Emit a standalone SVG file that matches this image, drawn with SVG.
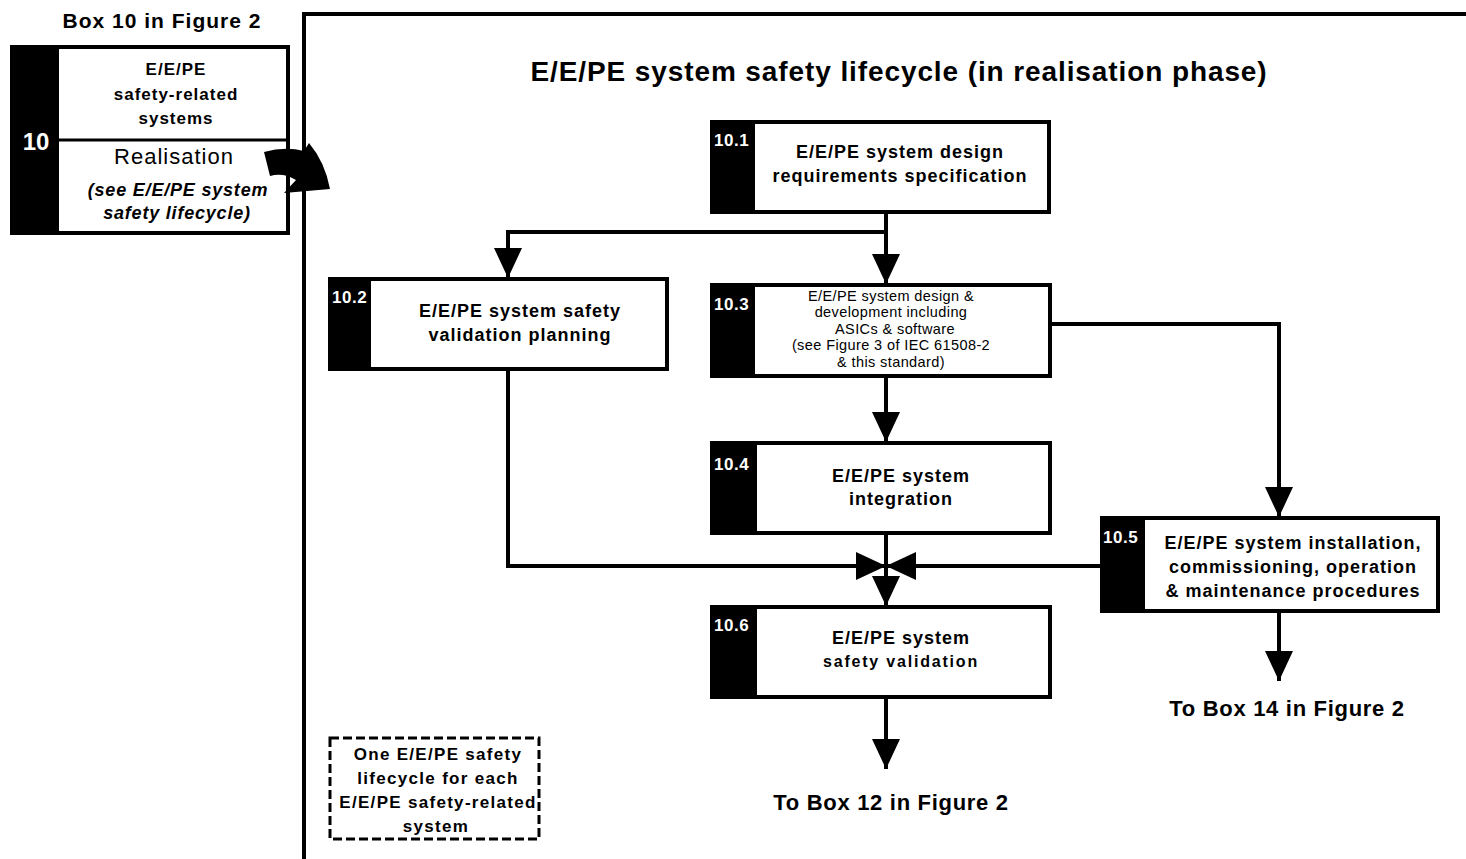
<svg xmlns="http://www.w3.org/2000/svg" width="1466" height="859" viewBox="0 0 1466 859">
<defs>
<marker id="ah" markerUnits="userSpaceOnUse" markerWidth="30" markerHeight="28" viewBox="0 0 30 28" refX="30" refY="14" orient="auto">
<path d="M0,0 L30,14 L0,28 Z" fill="#000"/>
</marker>
<style>
text{font-family:"Liberation Sans",Arial,sans-serif;fill:#000}
.b{font-weight:bold}
.t{font-size:18px;font-weight:bold;text-anchor:middle;letter-spacing:1px}
.n{font-size:17px;font-weight:bold;fill:#fff;letter-spacing:0.5px}
.box{fill:#fff;stroke:#000;stroke-width:4}
.bar{fill:#000}
.c{fill:none;stroke:#000;stroke-width:4}
.s{font-size:14.5px;text-anchor:middle;letter-spacing:0.4px}
.nt{font-size:17px;letter-spacing:1.3px}
.to{font-size:22px;letter-spacing:0.7px}
</style>
</defs>
<rect x="0" y="0" width="1466" height="859" fill="#fff"/>

<!-- outer frame -->
<path d="M304,859 L304,14 L1466,14" fill="none" stroke="#000" stroke-width="4"/>
<text x="899" y="81" class="b" font-size="28" letter-spacing="0.9" text-anchor="middle">E/E/PE system safety lifecycle (in realisation phase)</text>

<g id="box10">
<text x="162" y="28" class="b" font-size="21" letter-spacing="1" text-anchor="middle">Box 10 in Figure 2</text>
<rect x="12" y="47" width="276" height="186" class="box" stroke-width="3"/>
<rect x="11" y="46" width="48" height="189" class="bar"/>
<line x1="59" y1="140" x2="288" y2="140" stroke="#000" stroke-width="3"/>
<text x="36" y="150" font-size="24" class="b" text-anchor="middle" style="fill:#fff">10</text>
<text x="176" y="75" class="t" style="font-size:17px">E/E/PE</text>
<text x="176" y="100" class="t" style="font-size:17px">safety-related</text>
<text x="176" y="124" class="t" style="font-size:17px">systems</text>
<text x="174" y="164" font-size="22" letter-spacing="1" text-anchor="middle">Realisation</text>
<text x="178" y="196" class="b" font-size="18" letter-spacing="0.8" font-style="italic" text-anchor="middle">(see E/E/PE system</text>
<text x="177" y="219" class="b" font-size="18" letter-spacing="0.8" font-style="italic" text-anchor="middle">safety lifecycle)</text>
<path d="M264,152 Q285,146 304,151 L309,143 Q325,162 330,189 L284,193 L296,180 Q283,172 270,176 Z" fill="#000"/>
</g>

<g id="box10_1">
<rect x="712" y="122" width="337" height="90" class="box"/>
<rect x="710" y="120" width="45" height="94" class="bar"/>
<text x="714" y="146" class="n">10.1</text>
<text x="900" y="158" class="t">E/E/PE system design</text>
<text x="900" y="182" class="t">requirements specification</text>
</g>

<g id="box10_2">
<rect x="330" y="279" width="337" height="90" class="box"/>
<rect x="328" y="277" width="43" height="94" class="bar"/>
<text x="332" y="303" class="n">10.2</text>
<text x="520" y="317" class="t">E/E/PE system safety</text>
<text x="520" y="341" class="t">validation planning</text>
</g>

<g id="box10_3">
<rect x="712" y="285" width="338" height="91" class="box"/>
<rect x="710" y="283" width="45" height="95" class="bar"/>
<text x="714" y="310" class="n">10.3</text>
<text x="891" y="301" class="s">E/E/PE system design &amp;</text>
<text x="891" y="317" class="s">development including</text>
<text x="895" y="334" class="s">ASICs &amp; software</text>
<text x="891" y="350" class="s">(see Figure 3 of IEC 61508-2</text>
<text x="891" y="367" class="s">&amp; this standard)</text>
</g>

<g id="box10_4">
<rect x="712" y="443" width="338" height="90" class="box"/>
<rect x="710" y="441" width="47" height="94" class="bar"/>
<text x="714" y="470" class="n">10.4</text>
<text x="901" y="482" class="t">E/E/PE system</text>
<text x="901" y="505" class="t">integration</text>
</g>

<g id="box10_5">
<rect x="1102" y="518" width="336" height="93" class="box"/>
<rect x="1100" y="516" width="45" height="97" class="bar"/>
<text x="1103" y="543" class="n">10.5</text>
<text x="1293" y="549" class="t">E/E/PE system installation,</text>
<text x="1293" y="573" class="t">commissioning, operation</text>
<text x="1293" y="597" class="t">&amp; maintenance procedures</text>
</g>

<g id="box10_6">
<rect x="712" y="607" width="338" height="90" class="box"/>
<rect x="710" y="605" width="47" height="94" class="bar"/>
<text x="714" y="631" class="n">10.6</text>
<text x="901" y="644" class="t">E/E/PE system</text>
<text x="901" y="667" class="t" style="font-size:16px;letter-spacing:1.8px">safety validation</text>
</g>

<g id="note">
<rect x="330" y="738" width="209" height="101" fill="none" stroke="#000" stroke-width="3" stroke-dasharray="9,4"/>
<text x="438" y="760" class="t nt">One E/E/PE safety</text>
<text x="438" y="784" class="t nt">lifecycle for each</text>
<text x="438" y="808" class="t nt">E/E/PE safety-related</text>
<text x="436" y="832" class="t nt">system</text>
</g>

<g id="connectors">
<path d="M886,213 L886,284" class="c" marker-end="url(#ah)"/>
<path d="M886,232 L508,232 L508,278" class="c" marker-end="url(#ah)"/>
<path d="M886,377 L886,442" class="c" marker-end="url(#ah)"/>
<path d="M1051,324 L1279,324 L1279,517" class="c" marker-end="url(#ah)"/>
<path d="M508,370 L508,566 L886,566" class="c" marker-end="url(#ah)"/>
<path d="M1101,566 L886,566" class="c" marker-end="url(#ah)"/>
<path d="M886,534 L886,606" class="c" marker-end="url(#ah)"/>
<path d="M886,698 L886,769" class="c" marker-end="url(#ah)"/>
<path d="M1279,612 L1279,681" class="c" marker-end="url(#ah)"/>
<text x="891" y="810" class="t to">To Box 12 in Figure 2</text>
<text x="1287" y="716" class="t to">To Box 14 in Figure 2</text>
</g>
</svg>
